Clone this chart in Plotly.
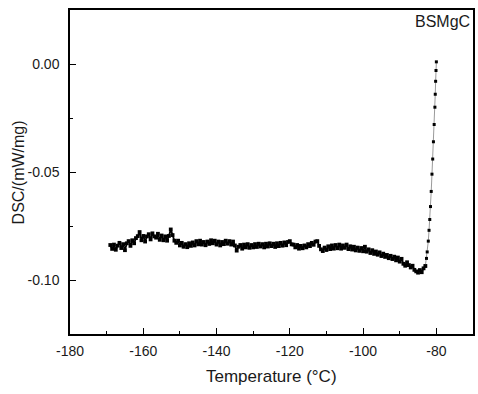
import plotly.graph_objects as go

# Baseline region, 0.5 degC steps from -169.0 to -83.0
base_start = -169.0
base_step = 0.5
dsc_base = [
    -0.0838, -0.0856, -0.0836, -0.0860, -0.0841, -0.0828, -0.0852, -0.0834, -0.0862, -0.0830,
    -0.0820, -0.0842, -0.0816, -0.0830, -0.0806, -0.0797, -0.0778, -0.0816, -0.0796, -0.0822,
    -0.0798, -0.0788, -0.0812, -0.0784, -0.0798, -0.0804, -0.0786, -0.0814, -0.0794, -0.0816,
    -0.0798, -0.0818, -0.0796, -0.0766, -0.0792, -0.0818, -0.0828, -0.0818, -0.0840, -0.0828,
    -0.0846, -0.0834, -0.0848, -0.0830, -0.0842, -0.0826, -0.0840, -0.0820, -0.0835, -0.0818,
    -0.0836, -0.0824, -0.0839, -0.0822, -0.0833, -0.0816, -0.0830, -0.0818, -0.0836, -0.0822,
    -0.0840, -0.0824, -0.0834, -0.0818, -0.0832, -0.0820, -0.0836, -0.0822, -0.0840, -0.0864,
    -0.0846, -0.0838, -0.0855, -0.0836, -0.0849, -0.0834, -0.0851, -0.0838, -0.0849, -0.0834,
    -0.0847, -0.0832, -0.0845, -0.0834, -0.0849, -0.0832, -0.0845, -0.0830, -0.0843, -0.0832,
    -0.0847, -0.0830, -0.0843, -0.0828, -0.0841, -0.0826, -0.0839, -0.0824, -0.0820, -0.0835,
    -0.0836, -0.0849, -0.0838, -0.0855, -0.0842, -0.0853, -0.0840, -0.0849, -0.0834, -0.0843,
    -0.0828, -0.0837, -0.0822, -0.0820, -0.0842, -0.0858, -0.0866, -0.0850, -0.0861, -0.0844,
    -0.0857, -0.0840, -0.0855, -0.0838, -0.0853, -0.0836, -0.0855, -0.0840, -0.0851, -0.0836,
    -0.0857, -0.0844, -0.0859, -0.0846, -0.0863, -0.0850, -0.0865, -0.0852, -0.0867, -0.0846,
    -0.0869, -0.0858, -0.0875, -0.0862, -0.0879, -0.0868, -0.0883, -0.0872, -0.0889, -0.0878,
    -0.0893, -0.0884, -0.0899, -0.0888, -0.0903, -0.0892, -0.0909, -0.0896, -0.0915, -0.0902,
    -0.0925, -0.0934, -0.0918, -0.0931, -0.0942, -0.0934, -0.0953, -0.0960, -0.0966, -0.0954,
    -0.0964, -0.0946, -0.0935,
]
temp_base = [base_start + base_step * i for i in range(len(dsc_base))]

# Steep rise near -80 degC
temp_rise = [-83.0, -82.7, -82.5, -82.2, -82.0, -81.8, -81.6, -81.4, -81.2, -81.0, -80.8,
             -80.6, -80.4, -80.3, -80.2, -80.1, -80.0]
dsc_rise = [-0.0935, -0.0900, -0.0870, -0.0820, -0.0770, -0.0720, -0.0660, -0.0590, -0.0510, -0.0440,
            -0.0360, -0.0280, -0.0200, -0.0140, -0.0080, -0.0030, 0.0010]

x_ticks = [-180, -160, -140, -120, -100, -80]
x_tick_labels = ["-180", "-160", "-140", "-120", "-100", "-80"]
y_ticks = [0.00, -0.05, -0.10]
y_tick_labels = ["0.00", "-0.05", "-0.10"]

FONT = "Arial, Liberation Sans, sans-serif"
TXT = "#1a1a1a"

fig = go.Figure()
fig.add_trace(go.Scatter(
    x=temp_base, y=dsc_base, mode="lines+markers",
    line=dict(color="black", width=1.8),
    marker=dict(color="black", size=3.8, symbol="square"),
    showlegend=False,
))
fig.add_trace(go.Scatter(
    x=temp_rise, y=dsc_rise, mode="lines+markers",
    line=dict(color="#555", width=0.6),
    marker=dict(color="black", size=3, symbol="square"),
    showlegend=False,
))

fig.update_layout(
    width=478, height=394,
    margin=dict(l=70, r=5, t=10, b=60, autoexpand=False),
    paper_bgcolor="white", plot_bgcolor="white",
    font=dict(family=FONT, color=TXT, size=14),
    annotations=[
        dict(text="BSMgC", xref="paper", yref="paper", x=0.997, y=0.997,
             xanchor="right", yanchor="top", showarrow=False,
             font=dict(family=FONT, size=16, color=TXT)),
        dict(text="DSC/(mW/mg)", xref="paper", yref="paper", x=-0.128, y=0.5,
             xanchor="center", yanchor="middle", textangle=-90, showarrow=False,
             font=dict(family=FONT, size=16, color=TXT)),
        dict(text="Temperature (°C)", xref="paper", yref="paper", x=0.5, y=-0.095,
             xanchor="center", yanchor="top", showarrow=False,
             font=dict(family=FONT, size=17, color=TXT)),
    ],
)
fig.update_xaxes(
    range=[-180, -70], tickvals=x_ticks, ticktext=x_tick_labels,
    showline=True, linecolor="black", linewidth=1.5, mirror=True,
    ticks="inside", ticklen=6, tickcolor="black", tickwidth=1,
    minor=dict(dtick=10, ticks="inside", ticklen=3, tickcolor="black"),
    showgrid=False, zeroline=False, automargin=False,
    tickfont=dict(size=14), ticklabelstandoff=3,
)
fig.update_yaxes(
    range=[-0.125, 0.025], tickvals=y_ticks, ticktext=y_tick_labels,
    showline=True, linecolor="black", linewidth=1.5, mirror=True,
    ticks="inside", ticklen=6, tickcolor="black", tickwidth=1,
    minor=dict(dtick=0.025, ticks="inside", ticklen=3, tickcolor="black"),
    showgrid=False, zeroline=False, automargin=False,
    tickfont=dict(size=14), ticklabelstandoff=6,
)

fig.write_html("out.html", config={"displayModeBar": False},
               post_script="document.body.style.margin='0';")
